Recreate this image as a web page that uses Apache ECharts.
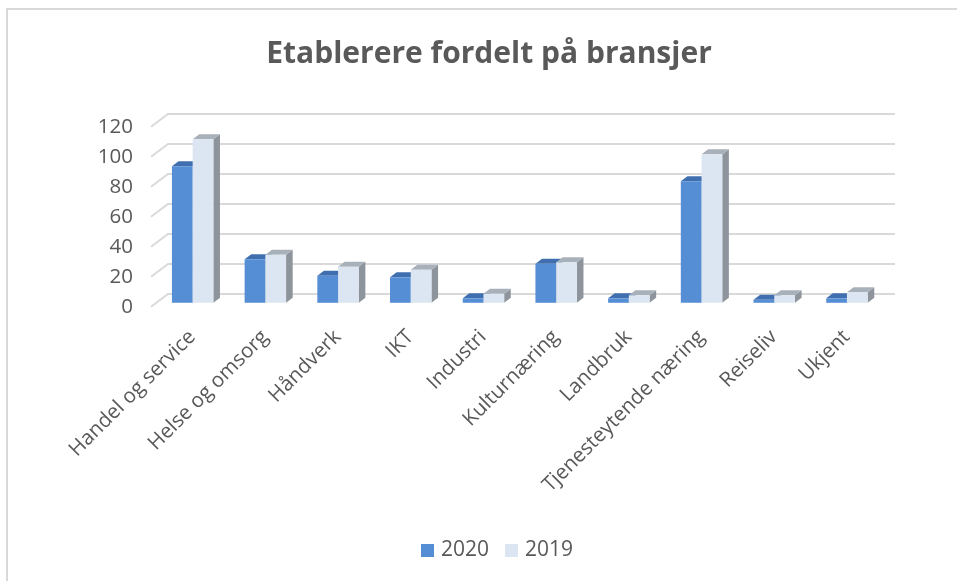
<!DOCTYPE html>
<html>
<head>
<meta charset="utf-8">
<script src="https://cdn.jsdelivr.net/npm/echarts@6/dist/echarts.min.js"></script>
<style>
html,body{margin:0;padding:0;background:#fff;}
#c{width:957px;height:581px;}
</style>
</head>
<body>
<div id="c"></div>
<script>
const categories = ['Handel og service','Helse og omsorg','Håndverk','IKT','Industri','Kulturnæring','Landbruk','Tjenesteytende næring','Reiseliv','Ukjent'];
const values2020 = [91,29,18,17,3,26,3,81,2,3];
const values2019 = [109,32,24,22,6,27,5,99,5,7];
const yTicks = [0,20,40,60,80,100,120];
const seriesNames = ['2020','2019'];

const FONT = '"Open Sans", "Noto Sans", sans-serif';
const TXT = '#595959';
const WALL = {dx:17, dy:-12.7};
const BAR_OFF = {dx:5.3, dy:-3.9};
const BAR_DEP = {dx:6.6, dy:-5};

const palette = {
  '2020': {front:'#558ED5', top:'#3F6FAF', side:'#3A64A0'},
  '2019': {front:'#DCE6F2', top:'#A8B0B9', side:'#8D949C'}
};

function barRenderer(name, side){
  return function(params, api){
    const i = api.value(0), v = api.value(1);
    const band = api.size([1,0])[0];
    const bw = band*0.285;
    const base = api.coord([i,0]);
    const top = api.coord([i,v]);
    const cx = base[0] + BAR_OFF.dx;
    const x0 = side === 0 ? cx - bw : cx;
    const x1 = x0 + bw;
    const yb = base[1] + BAR_OFF.dy;
    const yt = top[1] + BAR_OFF.dy;
    const c = palette[name];
    const dx = BAR_DEP.dx, dy = BAR_DEP.dy;
    return {type:'group', children:[
      {type:'polygon', shape:{points:[[x1,yt],[x1+dx,yt+dy],[x1+dx,yb+dy],[x1,yb]]}, style:{fill:c.side}},
      {type:'polygon', shape:{points:[[x0,yt],[x1,yt],[x1+dx,yt+dy],[x0+dx,yt+dy]]}, style:{fill:c.top}},
      {type:'rect', shape:{x:x0, y:yt, width:bw, height:yb-yt}, style:{fill:c.front}}
    ]};
  };
}

const chart = echarts.init(document.getElementById('c'), null, {renderer:'canvas'});
chart.setOption({
  animation:false,
  backgroundColor:'#fff',
  graphic:[
    {type:'rect', shape:{x:7, y:9, width:2000, height:2000}, style:{fill:'none', stroke:'#D9D9D9', lineWidth:2}, silent:true},
    {type:'text', x:489, y:54, style:{text:'Etablerere fordelt på bransjer', font:'bold 30px ' + FONT, fill:TXT, align:'center', verticalAlign:'middle'}}
  ],
  legend:{
    data:seriesNames, left:416, top:535, icon:'rect', itemWidth:13, itemHeight:13, itemGap:16,
    textStyle:{fontSize:21, color:TXT, fontFamily:FONT, padding:[0,0,0,2]}
  },
  grid:[
    {left:151, top:126.7, width:727, height:180},
    {left:156, top:126.7, width:727, height:180}
  ],
  xAxis:[
    {type:'category', data:categories, gridIndex:0, axisLine:{show:false}, axisTick:{show:false}, axisLabel:{show:false}},
    {type:'category', data:categories, gridIndex:1, axisLine:{show:false}, axisTick:{show:false},
     axisLabel:{rotate:45, margin:27, fontSize:20.5, color:TXT, fontFamily:FONT, interval:0}}
  ],
  yAxis:[
    {type:'value', gridIndex:0, min:0, max:120, interval:20, splitLine:{show:false}, axisLine:{show:false}, axisTick:{show:false},
     axisLabel:{margin:18, fontSize:20.5, color:TXT, fontFamily:FONT, padding:[6,0,0,0]}},
    {type:'value', gridIndex:1, min:0, max:120, interval:20, show:false}
  ],
  series:[
    {type:'custom', xAxisIndex:0, yAxisIndex:0, silent:true,
     data: yTicks.map(v => [0, v]),
     encode:{x:0, y:1},
     renderItem:function(params, api){
       const cs = params.coordSys;
       const y = api.coord([0, api.value(1)])[1];
       return {type:'polyline', shape:{points:[[cs.x, y],[cs.x+WALL.dx, y+WALL.dy],[cs.x+cs.width+WALL.dx, y+WALL.dy]]},
               style:{stroke:'#D9D9D9', lineWidth:1.8, fill:null}};
     }},
    {name:'2020', type:'custom', xAxisIndex:0, yAxisIndex:0, itemStyle:{color:palette['2020'].front},
     data: values2020.map((v,i) => [i, v]), encode:{x:0, y:1}, renderItem: barRenderer('2020', 0)},
    {name:'2019', type:'custom', xAxisIndex:0, yAxisIndex:0, itemStyle:{color:palette['2019'].front},
     data: values2019.map((v,i) => [i, v]), encode:{x:0, y:1}, renderItem: barRenderer('2019', 1)}
  ]
});
</script>
</body>
</html>
